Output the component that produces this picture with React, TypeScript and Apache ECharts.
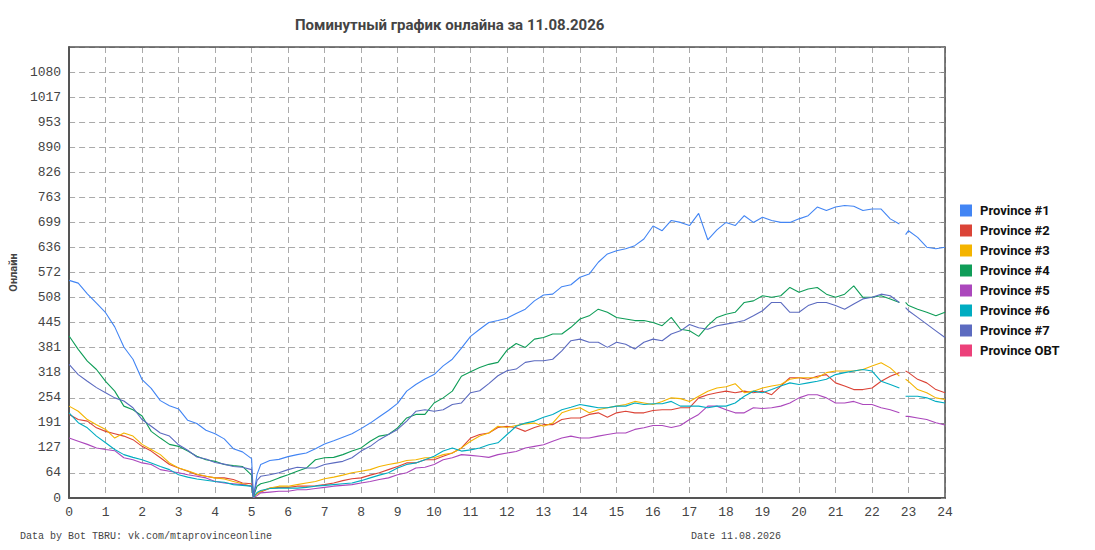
import React, { useEffect, useRef } from "react";
import * as echarts from "echarts";

const TITLE = "Поминутный график онлайна за 11.08.2026";
const Y_NAME = "Онлайн";
const FOOT_LEFT = "Data by Bot TBRU: vk.com/mtaprovinceonline";
const FOOT_RIGHT = "Date 11.08.2026";

const SERIES_NAMES = [
  "Province #1",
  "Province #2",
  "Province #3",
  "Province #4",
  "Province #5",
  "Province #6",
  "Province #7",
  "Province OBT",
];
const COLORS = ["#4285F4", "#DB4437", "#F4B400", "#0F9D58", "#AB47BC", "#00ACC1", "#5C6BC0", "#EC407A"];

const Y_TICK_LABELS = ["0", "64", "127", "191", "254", "318", "381", "445", "508", "572", "636", "699", "763", "826", "890", "953", "1017", "1080", ""];

// hours of day
const TIMES = [
  0, 0.25, 0.5, 0.75, 1, 1.25, 1.5, 1.75, 2, 2.25, 2.5, 2.75, 3, 3.25, 3.5, 3.75, 4, 4.25, 4.5, 4.75,
  5, 5.05, 5.15,
  5.25, 5.5, 5.75, 6, 6.25, 6.5, 6.75, 7,
  7.25, 7.5, 7.75, 8, 8.25, 8.5, 8.75, 9,
  9.25, 9.5, 9.75, 10, 10.25, 10.5, 10.75, 11,
  11.25, 11.5, 11.75, 12, 12.25, 12.5, 12.75, 13,
  13.25, 13.5, 13.75, 14, 14.25, 14.5, 14.75, 15,
  15.25, 15.5, 15.75, 16, 16.25, 16.5, 16.75, 17,
  17.25, 17.5, 17.75, 18, 18.25, 18.5, 18.75, 19,
  19.25, 19.5, 19.75, 20, 20.25, 20.5, 20.75, 21,
  21.25, 21.5, 21.75, 22, 22.25, 22.5, 22.75,
  22.83, 22.92,
  23, 23.25, 23.5, 23.75, 24,
];

const P1 = [
  552, 545, 518, 494, 470, 434, 383, 352, 300, 278, 247, 234, 226, 197, 189, 172, 163, 150, 125, 117,
  100, 3, 60,
  85, 95, 98, 105, 110, 114, 125, 137,
  145, 154, 163, 176, 190, 206, 222, 240,
  271, 288, 302, 313, 335, 352, 380, 410,
  428, 445, 450, 456, 468, 479, 500, 515,
  517, 536, 541, 560, 568, 598, 619, 627,
  632, 640, 657, 690, 678, 704, 699, 691,
  722, 655, 680, 699, 691, 716, 699, 712,
  704, 699, 699, 708, 716, 738, 729, 738,
  742, 740, 729, 733, 733, 708, 695,
  null, 668,
  678, 661, 636, 632, 636,
];
const P2 = [
  212, 199, 195, 178, 169, 163, 157, 148, 131, 119, 102, 85, 76, 68, 59, 55, 51, 51, 47, 38,
  36, 2, 12,
  15, 25, 27, 27, 30, 30, 31, 34,
  38, 44, 49, 51, 58, 64, 72, 80,
  89, 89, 97, 97, 106, 114, 127, 152,
  161, 165, 179, 182, 178, 169, 179, 186,
  186, 199, 203, 203, 212, 216, 205, 216,
  220, 216, 216, 222, 224, 224, 229, 229,
  254, 262, 267, 271, 267, 271, 267, 271,
  262, 284, 305, 305, 301, 309, 313, 292,
  284, 275, 275, 279, 296, 309, 318,
  null, 322,
  318, 301, 292, 275, 267,
];
const P3 = [
  233, 220, 199, 186, 174, 152, 165, 157, 136, 123, 110, 89, 76, 69, 61, 55, 51, 48, 42, 36,
  30, 2, 10,
  17, 25, 30, 30, 34, 38, 42, 49,
  53, 58, 64, 68, 72, 80, 85, 89,
  95, 97, 102, 102, 110, 114, 127, 144,
  157, 165, 182, 179, 184, 188, 190, 182,
  190, 216, 224, 229, 216, 224, 229, 233,
  237, 245, 241, 237, 245, 254, 252, 245,
  258, 271, 279, 282, 290, 267, 271, 279,
  284, 288, 301, 305, 305, 305, 318, 322,
  322, 322, 326, 335, 343, 330, 309,
  null, 301,
  296, 275, 267, 254, 250,
];
const P4 = [
  411, 377, 347, 326, 296, 271, 233, 224, 208, 169, 152, 136, 131, 119, 106, 97, 93, 85, 82, 80,
  58, 3, 30,
  36, 42, 51, 59, 68, 76, 97, 102,
  103, 110, 119, 127, 144, 157, 161, 178,
  203, 212, 212, 241, 254, 271, 309, 320,
  331, 339, 344, 375, 392, 382, 403, 407,
  416, 416, 433, 454, 462, 479, 471, 458,
  454, 450, 450, 445, 437, 458, 428, 424,
  410, 437, 458, 466, 471, 496, 500, 513,
  509, 513, 534, 522, 530, 534, 517, 509,
  517, 538, 509, 509, 513, 505, 496,
  null, 496,
  488, 479, 471, 462, 471,
];
const P5 = [
  152, 144, 136, 127, 123, 120, 102, 97, 89, 85, 72, 68, 64, 59, 55, 51, 42, 38, 36, 34,
  30, 1, 6,
  13, 15, 17, 17, 21, 21, 24, 27,
  30, 32, 34, 38, 42, 47, 51, 59,
  64, 76, 78, 85, 97, 102, 110, 108,
  106, 103, 110, 114, 118, 127, 131, 135,
  144, 152, 157, 152, 152, 157, 161, 165,
  165, 174, 178, 184, 184, 179, 184, 199,
  212, 233, 233, 224, 216, 216, 229, 227,
  229, 233, 241, 254, 262, 262, 254, 241,
  241, 245, 237, 237, 229, 224, 216,
  null, 207,
  207, 203, 199, 191, 185,
];
const P6 = [
  216, 191, 178, 157, 140, 123, 110, 103, 97, 89, 80, 72, 59, 53, 48, 45, 42, 40, 34, 32,
  30, 2, 14,
  19, 24, 25, 25, 25, 27, 30, 32,
  34, 36, 38, 44, 51, 58, 64, 76,
  85, 89, 97, 106, 119, 127, 119, 122,
  127, 135, 140, 161, 182, 190, 195, 205,
  212, 224, 230, 237, 233, 229, 229, 233,
  233, 241, 237, 239, 239, 245, 233, 233,
  233, 229, 233, 233, 241, 258, 271, 267,
  275, 284, 292, 288, 292, 296, 301, 313,
  318, 322, 326, 322, 296, 288, 279,
  null, 258,
  258, 258, 254, 245, 241,
];
const P7 = [
  339, 313, 296, 280, 267, 254, 246, 229, 199, 182, 165, 157, 135, 121, 104, 99, 90, 86, 80, 78,
  72, 4, 45,
  55, 59, 64, 72, 78, 76, 76, 85,
  89, 93, 102, 119, 131, 148, 161, 174,
  195, 220, 224, 220, 224, 237, 241, 267,
  272, 290, 310, 323, 327, 344, 348, 348,
  352, 373, 399, 403, 395, 395, 382, 395,
  390, 378, 395, 403, 399, 416, 424, 440,
  432, 428, 437, 441, 445, 450, 462, 475,
  496, 496, 471, 471, 488, 496, 496, 488,
  479, 492, 505, 509, 517, 513, 496,
  null, 483,
  475, 458, 441, 424, 407,
];
const POBT: (number | null)[] = [];

const VALUES = [P1, P2, P3, P4, P5, P6, P7, POBT];

const MONO = "'Liberation Mono', 'DejaVu Sans Mono', monospace";
const SANS = "Roboto, 'Noto Sans', sans-serif";

export default function App() {
  const ref = useRef<HTMLDivElement>(null);

  useEffect(() => {
    document.body.style.margin = "0";
    const chart = echarts.init(ref.current as HTMLDivElement, null, { renderer: "svg" });
    const yInterval = 63.55;
    const yMax = yInterval * 18;
    const dash = [6, 4];

    const series = SERIES_NAMES.map((name, si) => ({
      name,
      type: "line",
      showSymbol: false,
      symbol: "none",
      connectNulls: false,
      lineStyle: { width: 1.1, color: COLORS[si] },
      itemStyle: { color: COLORS[si] },
      data: VALUES[si].map((v, i) => [TIMES[i], v === null ? "-" : v]),
      xAxisIndex: 0,
      yAxisIndex: 0,
    }));

    chart.setOption({
      animation: false,
      backgroundColor: "#ffffff",
      title: {
        text: TITLE,
        left: 290,
        top: 12,
        textStyle: { fontFamily: SANS, fontWeight: "bold", fontSize: 15, color: "#444" },
      },
      legend: {
        data: SERIES_NAMES,
        orient: "vertical",
        left: 955,
        top: 199,
        itemWidth: 12,
        itemHeight: 12,
        itemGap: 7,
        icon: "rect",
        textStyle: { fontFamily: SANS, fontWeight: "bold", fontSize: 13, color: "#111", padding: [0, 0, 0, 3] },
      },
      grid: { left: 69, right: 150, top: 47, bottom: 52, containLabel: false },
      xAxis: [
        {
          type: "value",
          min: 0,
          max: 24,
          interval: 1,
          position: "bottom",
          axisLine: { show: true, lineStyle: { color: "#555", width: 2 } },
          axisTick: { show: false },
          axisLabel: { fontFamily: MONO, fontSize: 13, color: "#444", margin: 8 },
          splitLine: { show: true, lineStyle: { type: dash, color: "#aaa", width: 1 } },
        },
        {
          type: "value",
          min: 0,
          max: 24,
          interval: 1,
          position: "top",
          axisLine: { show: true, onZero: false, lineStyle: { color: "#555", width: 1.5 } },
          axisTick: { show: false },
          axisLabel: { show: false },
          splitLine: { show: false },
        },
      ],
      yAxis: [
        {
          type: "value",
          min: 0,
          max: yMax,
          interval: yInterval,
          position: "left",
          name: Y_NAME,
          nameLocation: "middle",
          nameGap: 46,
          nameTextStyle: { fontFamily: SANS, fontWeight: "bold", fontSize: 11, color: "#444" },
          axisLine: { show: true, lineStyle: { color: "#555", width: 2 } },
          axisTick: { show: false },
          axisLabel: {
            fontFamily: MONO,
            fontSize: 13,
            color: "#444",
            margin: 8,
            formatter: (_v: number, i: number) => Y_TICK_LABELS[i] ?? "",
          },
          splitLine: { show: true, lineStyle: { type: dash, color: "#aaa", width: 1 } },
        },
        {
          type: "value",
          min: 0,
          max: yMax,
          interval: yInterval,
          position: "right",
          axisLine: { show: true, onZero: false, lineStyle: { color: "#555", width: 1.5 } },
          axisTick: { show: true, inside: true, length: 4, lineStyle: { color: "#888" } },
          axisLabel: { show: false },
          splitLine: { show: false },
        },
      ],
      graphic: [
        {
          type: "text",
          left: 20,
          top: 531,
          style: { text: FOOT_LEFT, fontFamily: MONO, fontSize: 10, fill: "#444" },
        },
        {
          type: "text",
          left: 691,
          top: 531,
          style: { text: FOOT_RIGHT, fontFamily: MONO, fontSize: 10, fill: "#444" },
        },
      ],
      series,
    });

    return () => chart.dispose();
  }, []);

  return <div ref={ref} style={{ width: 1095, height: 550 }} />;
}
